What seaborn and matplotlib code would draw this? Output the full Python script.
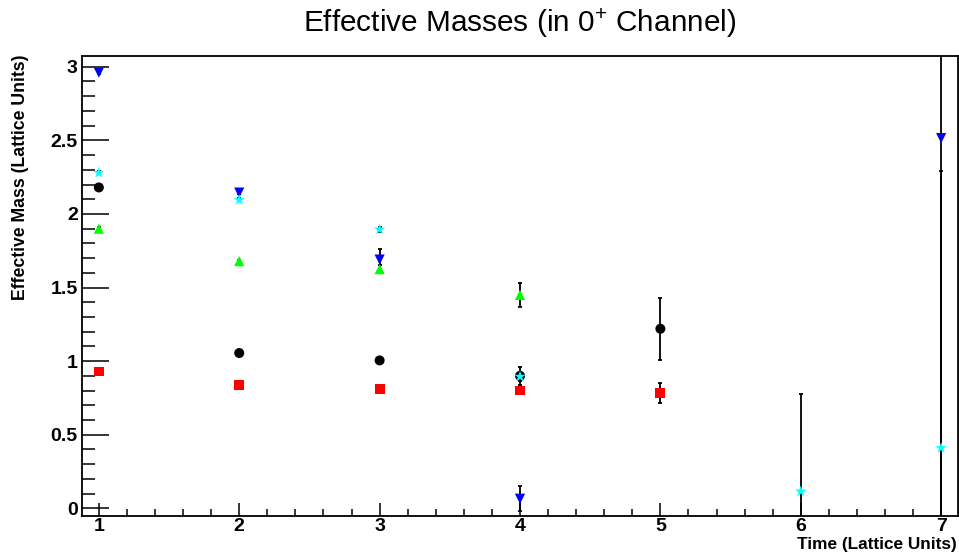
import matplotlib
matplotlib.use("Agg")
import matplotlib.pyplot as plt
from matplotlib.ticker import MultipleLocator
import numpy as np
import pandas as pd
import seaborn as sns

# Effective masses per time slice, one array per operator
t_black = [1, 2, 3, 4, 5]
m_black = [2.18, 1.055, 1.005, 0.90, 1.22]
e_black = [0.01, 0.01, 0.012, 0.063, 0.21]

t_red = [1, 2, 3, 4, 5]
m_red = [0.93, 0.84, 0.81, 0.80, 0.785]
e_red = [0.005, 0.005, 0.005, 0.01, 0.068]

t_green = [1, 2, 3, 4]
m_green = [1.90, 1.68, 1.625, 1.45]
e_green = [0.01, 0.01, 0.025, 0.08]

t_blue = [1, 2, 3, 4, 7]
m_blue = [2.96, 2.145, 1.69, 0.065, 2.515]
e_blue = [0.01, 0.01, 0.075, 0.085, 3.0]

t_cyan = [1, 2, 3, 4, 6, 7]
m_cyan = [2.28, 2.095, 1.895, 0.895, 0.115, 0.41]
e_cyan = [0.01, 0.01, 0.015, 0.03, 0.66, 1.88]

series_names = ["black", "red", "green", "blue", "cyan"]
series_colors = ["#000000", "#ff0000", "#00ff00", "#0000ff", "#00ffff"]
series_markers = ["o", "s", "^", "v", "*"]
series_sizes = [52, 50, 54, 54, 74]

x_ticks = [1, 2, 3, 4, 5, 6, 7]
y_ticks = [0, 0.5, 1, 1.5, 2, 2.5, 3]
y_tick_labels = ["0", "0.5", "1", "1.5", "2", "2.5", "3"]

title = "Effective Masses (in 0$^{+}$ Channel)"
x_label = "Time (Lattice Units)"
y_label = "Effective Mass (Lattice Units)"

frames = []
for name, t, m, e in zip(series_names,
                         [t_black, t_red, t_green, t_blue, t_cyan],
                         [m_black, m_red, m_green, m_blue, m_cyan],
                         [e_black, e_red, e_green, e_blue, e_cyan]):
    frames.append(pd.DataFrame({"time": t, "mass": m, "err": e, "series": name}))
df = pd.concat(frames, ignore_index=True)

sns.set_style("ticks")
plt.rcParams["font.family"] = ["Liberation Sans", "DejaVu Sans"]
plt.rcParams["mathtext.default"] = "regular"
for key in ("text.color", "axes.labelcolor", "xtick.color", "ytick.color",
            "axes.edgecolor"):
    plt.rcParams[key] = "black"

fig = plt.figure(figsize=(9.59, 5.59), dpi=100)
ax = fig.add_axes([82 / 959, 1 - 516 / 559, 876 / 959, (516 - 55.7) / 559])

# error bars underneath the markers
for name in series_names:
    sub = df[df.series == name]
    ax.errorbar(sub.time, sub.mass, yerr=sub.err, fmt="none", ecolor="black",
                elinewidth=1.3, capsize=1.2, capthick=1.3, zorder=2)

sns.scatterplot(data=df, x="time", y="mass", hue="series", style="series",
                size="series",
                hue_order=series_names, style_order=series_names,
                size_order=series_names,
                palette=dict(zip(series_names, series_colors)),
                markers=dict(zip(series_names, series_markers)),
                sizes=dict(zip(series_names, series_sizes)),
                linewidth=0, legend=False, ax=ax, zorder=3)

ax.set_xlim(0.88, 7.12)
ax.set_ylim(-0.052, 3.075)

ax.xaxis.set_major_locator(MultipleLocator(1))
ax.xaxis.set_minor_locator(MultipleLocator(0.2))
ax.yaxis.set_minor_locator(MultipleLocator(0.1))
ax.set_xticks(x_ticks)
ax.set_xticklabels([str(v) for v in x_ticks])
ax.set_yticks(y_ticks)
ax.set_yticklabels(y_tick_labels)

ax.tick_params(axis="both", which="both", direction="in", width=1.1,
               top=False, right=False, labelsize=14, colors="black")
ax.tick_params(axis="y", which="major", length=19.5, pad=3)
ax.tick_params(axis="y", which="minor", length=9.5)
ax.tick_params(axis="x", which="major", length=9.5, pad=1.5)
ax.tick_params(axis="x", which="minor", length=5)
for lab in ax.get_xticklabels() + ax.get_yticklabels():
    lab.set_fontweight("bold")

for sp in ax.spines.values():
    sp.set_linewidth(1.3)
    sp.set_color("black")

ax.set_xlabel(x_label, fontsize=12.4, fontweight="bold", loc="right")
ax.xaxis.label.set_va("baseline")
ax.xaxis.set_label_coords(0.9985, -0.072)
ax.set_ylabel(y_label, fontsize=12.7, fontweight="bold", loc="top")
ax.yaxis.label.set_va("center")
ax.yaxis.set_label_coords(-0.07, 1.003)

ax.set_title(title, fontsize=21.4, y=1.052, pad=0)

fig.savefig("out.png", dpi=100)
